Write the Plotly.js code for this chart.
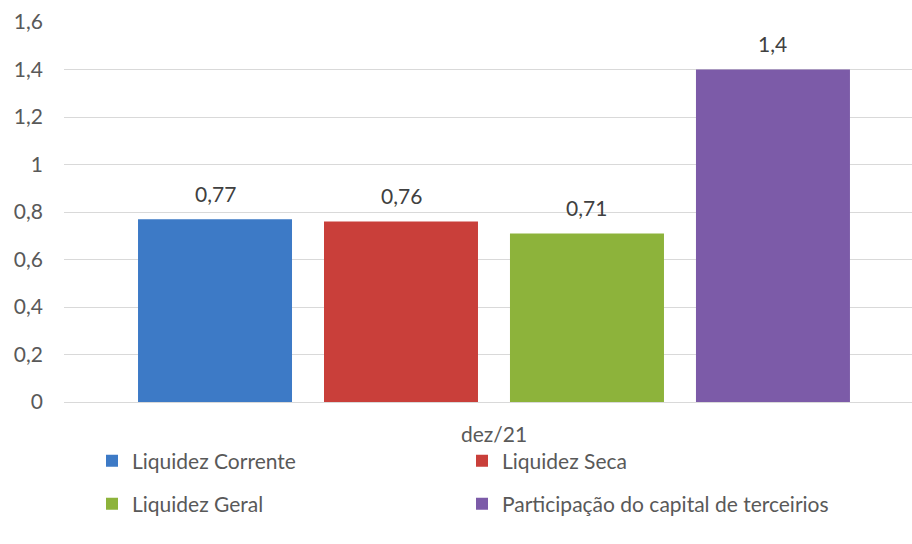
<!DOCTYPE html>
<html>
<head>
<meta charset="utf-8">
<script src="https://cdn.plot.ly/plotly-3.0.1.min.js"></script>
<style>html,body{margin:0;padding:0;background:#fff;}#chart{width:912px;height:544px;}</style>
</head>
<body>
<div id="chart"></div>
<script>
// Data
const categories = ['dez/21'];
const seriesNames = ['Liquidez Corrente', 'Liquidez Seca', 'Liquidez Geral', 'Participação do capital de terceirios'];
const seriesValues = [0.77, 0.76, 0.71, 1.4];
const seriesColors = ['#3d7ac6', '#c93f3a', '#8db33b', '#7c5ba8'];
const yTicks = [0, 0.2, 0.4, 0.6, 0.8, 1, 1.2, 1.4, 1.6];

const FONT = 'Lato, "Liberation Sans", sans-serif';
const FS = 21;
const TXT = '#595959';
const bargap = 0.0993;
const bargroupgap = 0.172;
const legendNames = ['legend', 'legend2', 'legend3', 'legend4'];
// legend placement (pixels): column left edges and row centres
const legendCols = [92, 462, 92, 462];
const legendRows = [461, 461, 504, 504];

const traces = seriesNames.map((name, i) => ({
  type: 'bar',
  name: name,
  x: categories,
  y: [seriesValues[i]],
  marker: {color: seriesColors[i], line: {width: 0}},
  legend: legendNames[i],
  hoverinfo: 'none',
  textposition: 'none'
}));

// data labels above bars
const groupW = 1 - bargap;
const fmt = v => String(v).replace('.', ',');
const annotations = seriesValues.map((v, i) => ({
  xref: 'x', yref: 'y',
  x: -groupW / 2 + groupW / seriesValues.length * (i + 0.5),
  y: v,
  text: fmt(v),
  showarrow: false,
  yanchor: 'middle',
  yshift: 26,
  font: {family: FONT, size: FS, color: '#404040'}
}));

const layout = {
  width: 912, height: 544,
  margin: {l: 64, r: 0, t: 22, b: 142},
  paper_bgcolor: '#ffffff', plot_bgcolor: '#ffffff',
  separators: ',.',
  barmode: 'group',
  bargap: bargap,
  bargroupgap: bargroupgap,
  font: {family: FONT, size: FS, color: TXT},
  xaxis: {
    type: 'category',
    range: [-0.5206, 0.5061],
    showgrid: false,
    showline: true, linecolor: '#d9d9d9', linewidth: 1,
    ticks: '',
    ticklabelstandoff: 14,
    tickfont: {family: FONT, size: FS, color: TXT},
    fixedrange: true
  },
  yaxis: {
    range: [0, 1.6],
    tickvals: yTicks,
    ticktext: yTicks.map(fmt),
    showgrid: true, gridcolor: '#d9d9d9', gridwidth: 1,
    zeroline: false,
    showline: false,
    ticks: '',
    ticklabelstandoff: 20,
    tickfont: {family: FONT, size: FS, color: TXT},
    fixedrange: true
  },
  showlegend: true,
  annotations: annotations
};

legendNames.forEach((ln, i) => {
  layout[ln] = {
    orientation: 'h',
    x: (legendCols[i] - 64) / 848, xanchor: 'left',
    y: (402 - legendRows[i]) / 380, yanchor: 'middle',
    font: {family: FONT, size: FS, color: TXT},
    bgcolor: 'rgba(0,0,0,0)',
    itemclick: false, itemdoubleclick: false
  };
});

Plotly.newPlot('chart', traces, layout, {displayModeBar: false, staticPlot: true});
</script>
</body>
</html>
